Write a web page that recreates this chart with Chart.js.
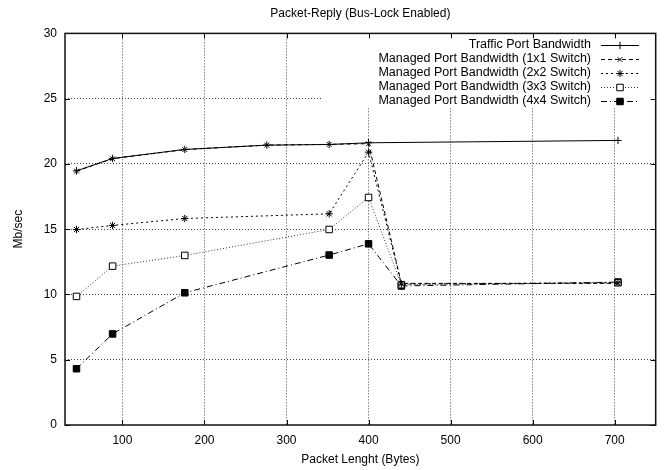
<!DOCTYPE html>
<html><head><meta charset="utf-8">
<script src="https://cdn.jsdelivr.net/npm/chart.js@4/dist/chart.umd.min.js"></script>
<style>html,body{margin:0;padding:0;background:#fff}#wrap{width:669px;height:470px}</style>
</head><body><div id="wrap"><canvas id="c" width="669" height="470"></canvas></div>
<script>
const chartTitle = 'Packet-Reply (Bus-Lock Enabled)';
const xTitle = 'Packet Lenght (Bytes)';
const yTitle = 'Mb/sec';
const xTickValues = [100, 200, 300, 400, 500, 600, 700];
const yTickValues = [0, 5, 10, 15, 20, 25, 30];
const seriesLabels = [
  'Traffic Port Bandwidth',
  'Managed Port Bandwidth (1x1 Switch)',
  'Managed Port Bandwidth (2x2 Switch)',
  'Managed Port Bandwidth (3x3 Switch)',
  'Managed Port Bandwidth (4x4 Switch)'
];
const trafficX = [44, 88, 176, 276, 352, 400, 704];
const trafficY = [19.47, 20.42, 21.11, 21.44, 21.49, 21.62, 21.8];
const sw1X = [44, 88, 176, 276, 352, 400, 440, 704];
const sw1Y = [19.45, 20.4, 21.1, 21.44, 21.5, 21.55, 10.85, 10.85];
const sw2X = [44, 88, 176, 352, 400, 440, 704];
const sw2Y = [14.98, 15.29, 15.82, 16.18, 20.9, 10.8, 10.9];
const sw3X = [44, 88, 176, 352, 400, 440, 704];
const sw3Y = [9.85, 12.17, 12.99, 14.98, 17.43, 10.75, 10.9];
const sw4X = [44, 88, 176, 352, 400, 440, 704];
const sw4Y = [4.31, 6.98, 10.13, 13.02, 13.88, 10.65, 10.95];

const FONT = 'Liberation Sans, Arial, Helvetica, sans-serif';
const pts = (xs, ys) => xs.map((x, i) => ({x: x, y: ys[i]}));

const styles = [
  {dash: [], point: 'cross', r: 3.7, fill: '#000'},
  {dash: [4, 3], point: 'crossRot', r: 3.4, fill: '#000'},
  {dash: [2, 3], point: 'star', r: 3.7, fill: '#000'},
  {dash: [1, 2], point: 'rect', r: 4.6, fill: '#fff'},
  {dash: [6, 3, 1, 3], point: 'rect', r: 4.6, fill: '#000'}
];
const seriesData = [pts(trafficX, trafficY), pts(sw1X, sw1Y), pts(sw2X, sw2Y), pts(sw3X, sw3Y), pts(sw4X, sw4Y)];

const datasets = seriesData.map((d, i) => ({
  label: seriesLabels[i],
  data: d,
  borderColor: i === 3 ? '#333' : '#000',
  borderWidth: 1,
  borderDash: styles[i].dash,
  pointStyle: styles[i].point,
  pointRadius: styles[i].r,
  pointBackgroundColor: styles[i].fill,
  pointBorderColor: '#000',
  pointBorderWidth: 1,
  fill: false,
  tension: 0
}));

const LEGEND_BOX = {x: 322, yBottom: 107};

const framePlugin = {
  id: 'frame',
  beforeDatasetsDraw(chart) {
    const {ctx, chartArea: a} = chart;
    ctx.save();
    ctx.fillStyle = '#fff';
    ctx.fillRect(LEGEND_BOX.x, a.top + 1, a.right - LEGEND_BOX.x - 1, LEGEND_BOX.yBottom - a.top);
    ctx.restore();
  },
  afterDatasetsDraw(chart) {
    const {ctx, chartArea: a, scales} = chart;
    ctx.save();
    ctx.strokeStyle = '#000';
    ctx.lineWidth = 1;
    ctx.beginPath();
    xTickValues.forEach(v => {
      const px = Math.round(scales.x.getPixelForValue(v)) + 0.5;
      ctx.moveTo(px, a.bottom); ctx.lineTo(px, a.bottom - 5);
      ctx.moveTo(px, a.top); ctx.lineTo(px, a.top + 5);
    });
    yTickValues.forEach(v => {
      const py = Math.round(scales.y.getPixelForValue(v)) + 0.5;
      ctx.moveTo(a.left, py); ctx.lineTo(a.left + 5, py);
      ctx.moveTo(a.right, py); ctx.lineTo(a.right - 5, py);
    });
    ctx.stroke();
    ctx.lineWidth = 1.5;
    ctx.strokeStyle = '#111';
    ctx.strokeRect(a.left, a.top, a.right - a.left, a.bottom - a.top);
    ctx.restore();
  },
  afterDraw(chart) {
    const {ctx} = chart;
    ctx.save();
    ctx.font = '12.5px ' + FONT;
    ctx.fillStyle = '#000';
    ctx.textAlign = 'right';
    ctx.textBaseline = 'middle';
    chart.data.datasets.forEach((ds, i) => {
      const y = 45 + i * 13.9;
      ctx.fillText(ds.label, 591, y);
      ctx.save();
      ctx.strokeStyle = ds.borderColor;
      ctx.lineWidth = 1;
      ctx.setLineDash(ds.borderDash);
      ctx.beginPath();
      ctx.moveTo(601, Math.round(y) + 0.5);
      ctx.lineTo(639, Math.round(y) + 0.5);
      ctx.stroke();
      ctx.setLineDash([]);
      ctx.fillStyle = ds.pointBackgroundColor;
      ctx.strokeStyle = '#000';
      Chart.helpers.drawPoint(ctx, {pointStyle: ds.pointStyle, radius: ds.pointRadius, borderWidth: 1, rotation: 0}, 620, Math.round(y) + 0.5);
      ctx.restore();
    });
    ctx.restore();
  }
};

new Chart(document.getElementById('c'), {
  type: 'line',
  data: {datasets: datasets},
  options: {
    responsive: false,
    animation: false,
    devicePixelRatio: 1,
    layout: {padding: {left: 0, right: 13.3, top: 0, bottom: 0}},
    plugins: {
      legend: {display: false},
      tooltip: {enabled: false},
      title: {
        display: true,
        fullSize: false,
        text: chartTitle,
        color: '#000',
        font: {family: FONT, size: 12, weight: 'normal'},
        padding: {top: 6, bottom: 13}
      }
    },
    scales: {
      x: {
        type: 'linear',
        min: 30,
        max: 750,
        afterBuildTicks: s => { s.ticks = xTickValues.map(v => ({value: v})); },
        afterFit: s => { s.height = 45; },
        ticks: {color: '#000', font: {family: FONT, size: 12}, padding: 8, maxRotation: 0, autoSkip: false},
        grid: {color: '#444', lineWidth: 1, drawTicks: false},
        border: {display: false, dash: [1, 2]},
        title: {display: true, text: xTitle, color: '#000', font: {family: FONT, size: 12}, padding: {top: 0, bottom: 3}}
      },
      y: {
        type: 'linear',
        min: 0,
        max: 30,
        afterBuildTicks: s => { s.ticks = yTickValues.map(v => ({value: v})); },
        afterFit: s => { s.width = 65; },
        ticks: {color: '#000', font: {family: FONT, size: 12}, padding: 8},
        grid: {
          color: ctx => (ctx.tick && (ctx.tick.value === 0 || ctx.tick.value === 30)) ? 'rgba(0,0,0,0)' : '#444',
          lineWidth: 1, drawTicks: false
        },
        border: {display: false, dash: [1, 2]},
        title: {display: true, text: yTitle, color: '#000', font: {family: FONT, size: 12}, padding: {top: 11, bottom: 0}}
      }
    }
  },
  plugins: [framePlugin]
});
</script>
</body></html>
